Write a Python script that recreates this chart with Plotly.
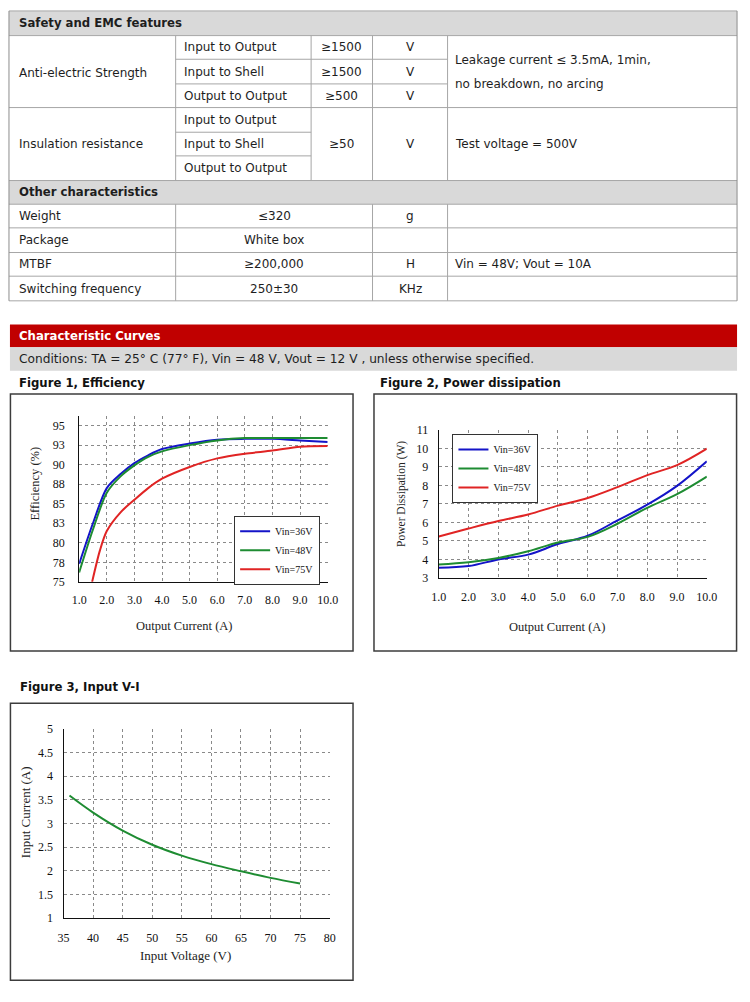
import plotly.graph_objects as go

W, H = 750, 1002
TFONT = "DejaVu Sans"
CFONT = "Liberation Serif"

# ---------------- table data ----------------
safety_title = "Safety and EMC features"
anti_label = "Anti-electric Strength"
anti_items = ["Input to Output", "Input to Shell", "Output to Output"]
anti_values = ["≥1500", "≥1500", "≥500"]
anti_units = ["V", "V", "V"]
anti_notes = ["Leakage current ≤ 3.5mA, 1min,", "no breakdown, no arcing"]
ins_label = "Insulation resistance"
ins_items = ["Input to Output", "Input to Shell", "Output to Output"]
ins_value = "≥50"
ins_unit = "V"
ins_note = "Test voltage = 500V"

other_title = "Other characteristics"
other_names = ["Weight", "Package", "MTBF", "Switching frequency"]
other_values = ["≤320", "White box", "≥200,000", "250±30"]
other_units = ["g", "", "H", "KHz"]
other_notes = ["", "", "Vin = 48V; Vout = 10A", ""]

section_title = "Characteristic Curves"
conditions = "Conditions: TA = 25° C (77° F), Vin = 48 V, Vout = 12 V , unless otherwise specified."
fig_titles = ["Figure 1, Efficiency", "Figure 2, Power dissipation", "Figure 3, Input V-I"]

# ---------------- chart data ----------------
eff_x = [1.0, 1.5, 2.0, 2.5, 3.0, 3.5, 4.0, 5.0, 6.0, 7.0, 8.0, 9.0, 10.0]
eff_36 = [77.3, 82.5, 87.0, 88.8, 90.2, 91.2, 92.0, 92.7, 93.2, 93.3, 93.3, 93.1, 92.9]
eff_48 = [76.2, 81.7, 86.4, 88.5, 89.9, 91.0, 91.7, 92.5, 93.1, 93.4, 93.4, 93.4, 93.4]
eff_x75 = [1.47, 1.75, 2.0, 2.5, 3.0, 3.5, 4.0, 5.0, 6.0, 7.0, 8.0, 9.0, 10.0]
eff_75 = [75.0, 79.0, 81.5, 83.9, 85.5, 87.0, 88.2, 89.7, 90.8, 91.4, 91.8, 92.3, 92.4]
eff_xticks = [1, 2, 3, 4, 5, 6, 7, 8, 9, 10]
eff_yticks = [75, 77.5, 80, 82.5, 85, 87.5, 90, 92.5, 95]
eff_yticklabels = ["75", "78", "80", "83", "85", "88", "90", "93", "95"]

pd_x = [1.0, 2.0, 3.0, 4.0, 5.0, 6.0, 7.0, 8.0, 9.0, 10.0]
pd_36 = [3.55, 3.64, 4.00, 4.26, 4.83, 5.28, 6.11, 6.96, 7.98, 9.31]
pd_48 = [3.73, 3.85, 4.08, 4.44, 4.92, 5.22, 5.93, 6.79, 7.53, 8.48]
pd_75 = [5.24, 5.67, 6.08, 6.43, 6.91, 7.32, 7.91, 8.56, 9.10, 9.99]

vi_v = [36, 40, 45, 50, 55, 60, 65, 70, 75]
vi_i = [3.59, 3.23, 2.85, 2.55, 2.32, 2.14, 1.99, 1.85, 1.73]
vi_yticks = [1, 1.5, 2, 2.5, 3, 3.5, 4, 4.5, 5]
vi_yticklabels = ["1", "1.5", "2", "2.5", "3", "3.5", "4", "4.5", "5"]

series_names = ["Vin=36V", "Vin=48V", "Vin=75V"]
BLUE, GREEN, RED = "#1414c8", "#1e8c32", "#e02424"


def X(p):
    return p / W


def Y(p):
    return 1 - p / H


shapes = []
annotations = []


def line(x0, y0, x1, y1, color="#a6a6a6", width=1):
    shapes.append(dict(type="line", xref="paper", yref="paper", x0=X(x0), x1=X(x1),
                       y0=Y(y0), y1=Y(y1), line=dict(color=color, width=width), layer="above"))


def rect(x0, y0, x1, y1, fill=None, color=None, width=0):
    shapes.append(dict(type="rect", xref="paper", yref="paper", x0=X(x0), x1=X(x1),
                       y0=Y(y0), y1=Y(y1), fillcolor=fill or "rgba(0,0,0,0)",
                       line=dict(color=color or "rgba(0,0,0,0)", width=width), layer="below"))


def text(t, x, y, anchor="left", size=12, bold=False, color="#1e1e1e", family=TFONT, angle=0):
    annotations.append(dict(text=("<b>%s</b>" % t) if bold else t, x=X(x), y=Y(y), xref="paper",
                            yref="paper", xanchor=anchor, yanchor="middle", showarrow=False,
                            textangle=angle, borderpad=0,
                            font=dict(family=family, size=size, color=color)))


# ---------------- table ----------------
rows = [4, 29, 53, 78, 102, 127, 151, 176, 200, 224, 249, 273, 298]
c0, c1, c2, c3, c4, c5 = 1, 172, 311, 374, 451, 748

rect(c0, rows[0], c5, rows[1], fill="#d9d9d9")
rect(c0, rows[7], c5, rows[8], fill="#d9d9d9")

for y in [rows[0], rows[1], rows[4], rows[7], rows[8], rows[9], rows[10], rows[11], rows[12]]:
    line(c0, y, c5, y)
for y in [rows[2], rows[3]]:
    line(c1, y, c4, y)
for y in [rows[5], rows[6]]:
    line(c1, y, c2, y)
line(c0, rows[0], c0, rows[12], color="#8c8c8c")
line(c5, rows[0], c5, rows[12], color="#8c8c8c")
for x in [c1, c2, c3, c4]:
    line(x, rows[1], x, rows[7])
for x in [c1, c3, c4]:
    line(x, rows[8], x, rows[12])


def mid(a, b):
    return (a + b) / 2


BOLD_SIZE = 11.7
text(safety_title, 10, mid(rows[0], rows[1]), bold=True, size=BOLD_SIZE)
text(anti_label, 10, mid(rows[1], rows[4]) + 1)
for i in range(3):
    ym = mid(rows[1 + i], rows[2 + i])
    text(anti_items[i], 180, ym)
    text(anti_values[i], mid(c2, c3), ym, anchor="center")
    text(anti_units[i], mid(c3, c4), ym, anchor="center")
text(anti_notes[0], 458, 54)
text(anti_notes[1], 458, 78)
text(ins_label, 10, mid(rows[4], rows[7]))
for i in range(3):
    text(ins_items[i], 180, mid(rows[4 + i], rows[5 + i]))
text(ins_value, mid(c2, c3), mid(rows[4], rows[7]), anchor="center")
text(ins_unit, mid(c3, c4), mid(rows[4], rows[7]), anchor="center")
text(ins_note, 458, mid(rows[4], rows[7]))

text(other_title, 10, mid(rows[7], rows[8]), bold=True, size=BOLD_SIZE)
for i in range(4):
    ym = mid(rows[8 + i], rows[9 + i])
    text(other_names[i], 10, ym)
    text(other_values[i], mid(c1, c3), ym, anchor="center")
    if other_units[i]:
        text(other_units[i], mid(c3, c4), ym, anchor="center")
    if other_notes[i]:
        text(other_notes[i], 458, ym)

# ---------------- section header ----------------
rect(2, 322, 748, 345, fill="#c00000")
rect(2, 345, 748, 369, fill="#d9d9d9")
text(section_title, 10, 333.5, bold=True, color="white", size=BOLD_SIZE)
text(conditions, 10, 357, size=12.2)
text(fig_titles[0], 10, 381, bold=True, color="#111", size=BOLD_SIZE)
text(fig_titles[1], 381, 381, bold=True, color="#111", size=BOLD_SIZE)
text(fig_titles[2], 11, 690, bold=True, color="#111", size=BOLD_SIZE)

# figure frames
for (x0, y0, x1, y1) in [(2.5, 392.5, 354, 653), (375.5, 392.5, 747.5, 653), (2.5, 706, 354, 987)]:
    shapes.append(dict(type="rect", xref="paper", yref="paper", x0=X(x0), x1=X(x1), y0=Y(y0),
                       y1=Y(y1), line=dict(color="#3c3c3c", width=1.5), fillcolor="rgba(0,0,0,0)",
                       layer="below"))

# axis titles
text("Output Current (A)", 181, 628, anchor="center", size=12.5, family=CFONT, color="#222")
text("Efficiency (%)", 28, 483, anchor="center", size=12.5, family=CFONT, color="#222", angle=-90)
text("Output Current (A)", 564, 629, anchor="center", size=12.5, family=CFONT, color="#222")
text("Power Dissipation (W)", 403, 494, anchor="center", size=11.5, family=CFONT, color="#222", angle=-90)
text("Input Voltage (V)", 182, 962, anchor="center", size=13, family=CFONT, color="#222")
text("Input Current (A)", 18, 817, anchor="center", size=13, family=CFONT, color="#222", angle=-90)

# ---------------- traces ----------------
fig = go.Figure()
fig.add_trace(go.Scatter(x=eff_x, y=eff_36, name=series_names[0], mode="lines", line=dict(color=BLUE, width=2, shape="spline", smoothing=0.8), xaxis="x", yaxis="y", legend="legend"))
fig.add_trace(go.Scatter(x=eff_x, y=eff_48, name=series_names[1], mode="lines", line=dict(color=GREEN, width=2, shape="spline", smoothing=0.8), xaxis="x", yaxis="y", legend="legend"))
fig.add_trace(go.Scatter(x=eff_x75, y=eff_75, name=series_names[2], mode="lines", line=dict(color=RED, width=2, shape="spline", smoothing=0.8), xaxis="x", yaxis="y", legend="legend"))

fig.add_trace(go.Scatter(x=pd_x, y=pd_36, name=series_names[0], mode="lines", line=dict(color=BLUE, width=2, shape="spline"), xaxis="x2", yaxis="y2", legend="legend2"))
fig.add_trace(go.Scatter(x=pd_x, y=pd_48, name=series_names[1], mode="lines", line=dict(color=GREEN, width=2, shape="spline"), xaxis="x2", yaxis="y2", legend="legend2"))
fig.add_trace(go.Scatter(x=pd_x, y=pd_75, name=series_names[2], mode="lines", line=dict(color=RED, width=2, shape="spline"), xaxis="x2", yaxis="y2", legend="legend2"))

fig.add_trace(go.Scatter(x=vi_v, y=vi_i, name="Input current", mode="lines", line=dict(color=GREEN, width=2, shape="spline"), xaxis="x3", yaxis="y3", showlegend=False))

tickfont = dict(family=CFONT, size=12, color="#111")
common = dict(showgrid=True, gridcolor="#8a8a8a", griddash="dot", gridwidth=1, showline=True,
              linecolor="#111", linewidth=1.2, ticks="", zeroline=False, tickfont=tickfont,
              fixedrange=True)

legend_common = dict(xanchor="left", yanchor="top", bgcolor="white", bordercolor="#333",
                     borderwidth=1, font=dict(family=CFONT, size=10, color="#111"),
                     itemwidth=30, tracegroupgap=0)

fig.update_layout(
    width=W, height=H, margin=dict(l=0, r=0, t=0, b=0),
    paper_bgcolor="white", plot_bgcolor="white", showlegend=True,
    shapes=shapes, annotations=annotations,
    xaxis=dict(domain=[X(73), X(328)], anchor="y", range=[1, 10], tickvals=eff_xticks,
               tickformat=".1f", ticklabelstandoff=7, **common),
    yaxis=dict(domain=[Y(583), Y(415)], anchor="x", range=[75, 96.2], tickvals=eff_yticks,
               ticktext=eff_yticklabels, ticklabelstandoff=11, **common),
    xaxis2=dict(domain=[X(442), X(717)], anchor="y2", range=[1, 10], dtick=1, tickformat=".1f",
                ticklabelstandoff=8, **common),
    yaxis2=dict(domain=[Y(579), Y(429)], anchor="x2", range=[3, 11], dtick=1,
                ticklabelstandoff=7, **common),
    xaxis3=dict(domain=[X(57), X(330)], anchor="y3", range=[35, 80], dtick=5,
                ticklabelstandoff=8, **common),
    yaxis3=dict(domain=[Y(924), Y(732)], anchor="x3", range=[1, 5], tickvals=vi_yticks,
                ticktext=vi_yticklabels, ticklabelstandoff=7, **common),
    legend=dict(x=X(232), y=Y(516), **legend_common),
    legend2=dict(x=X(456), y=Y(433), **legend_common),
)

fig.write_html("out.html")
